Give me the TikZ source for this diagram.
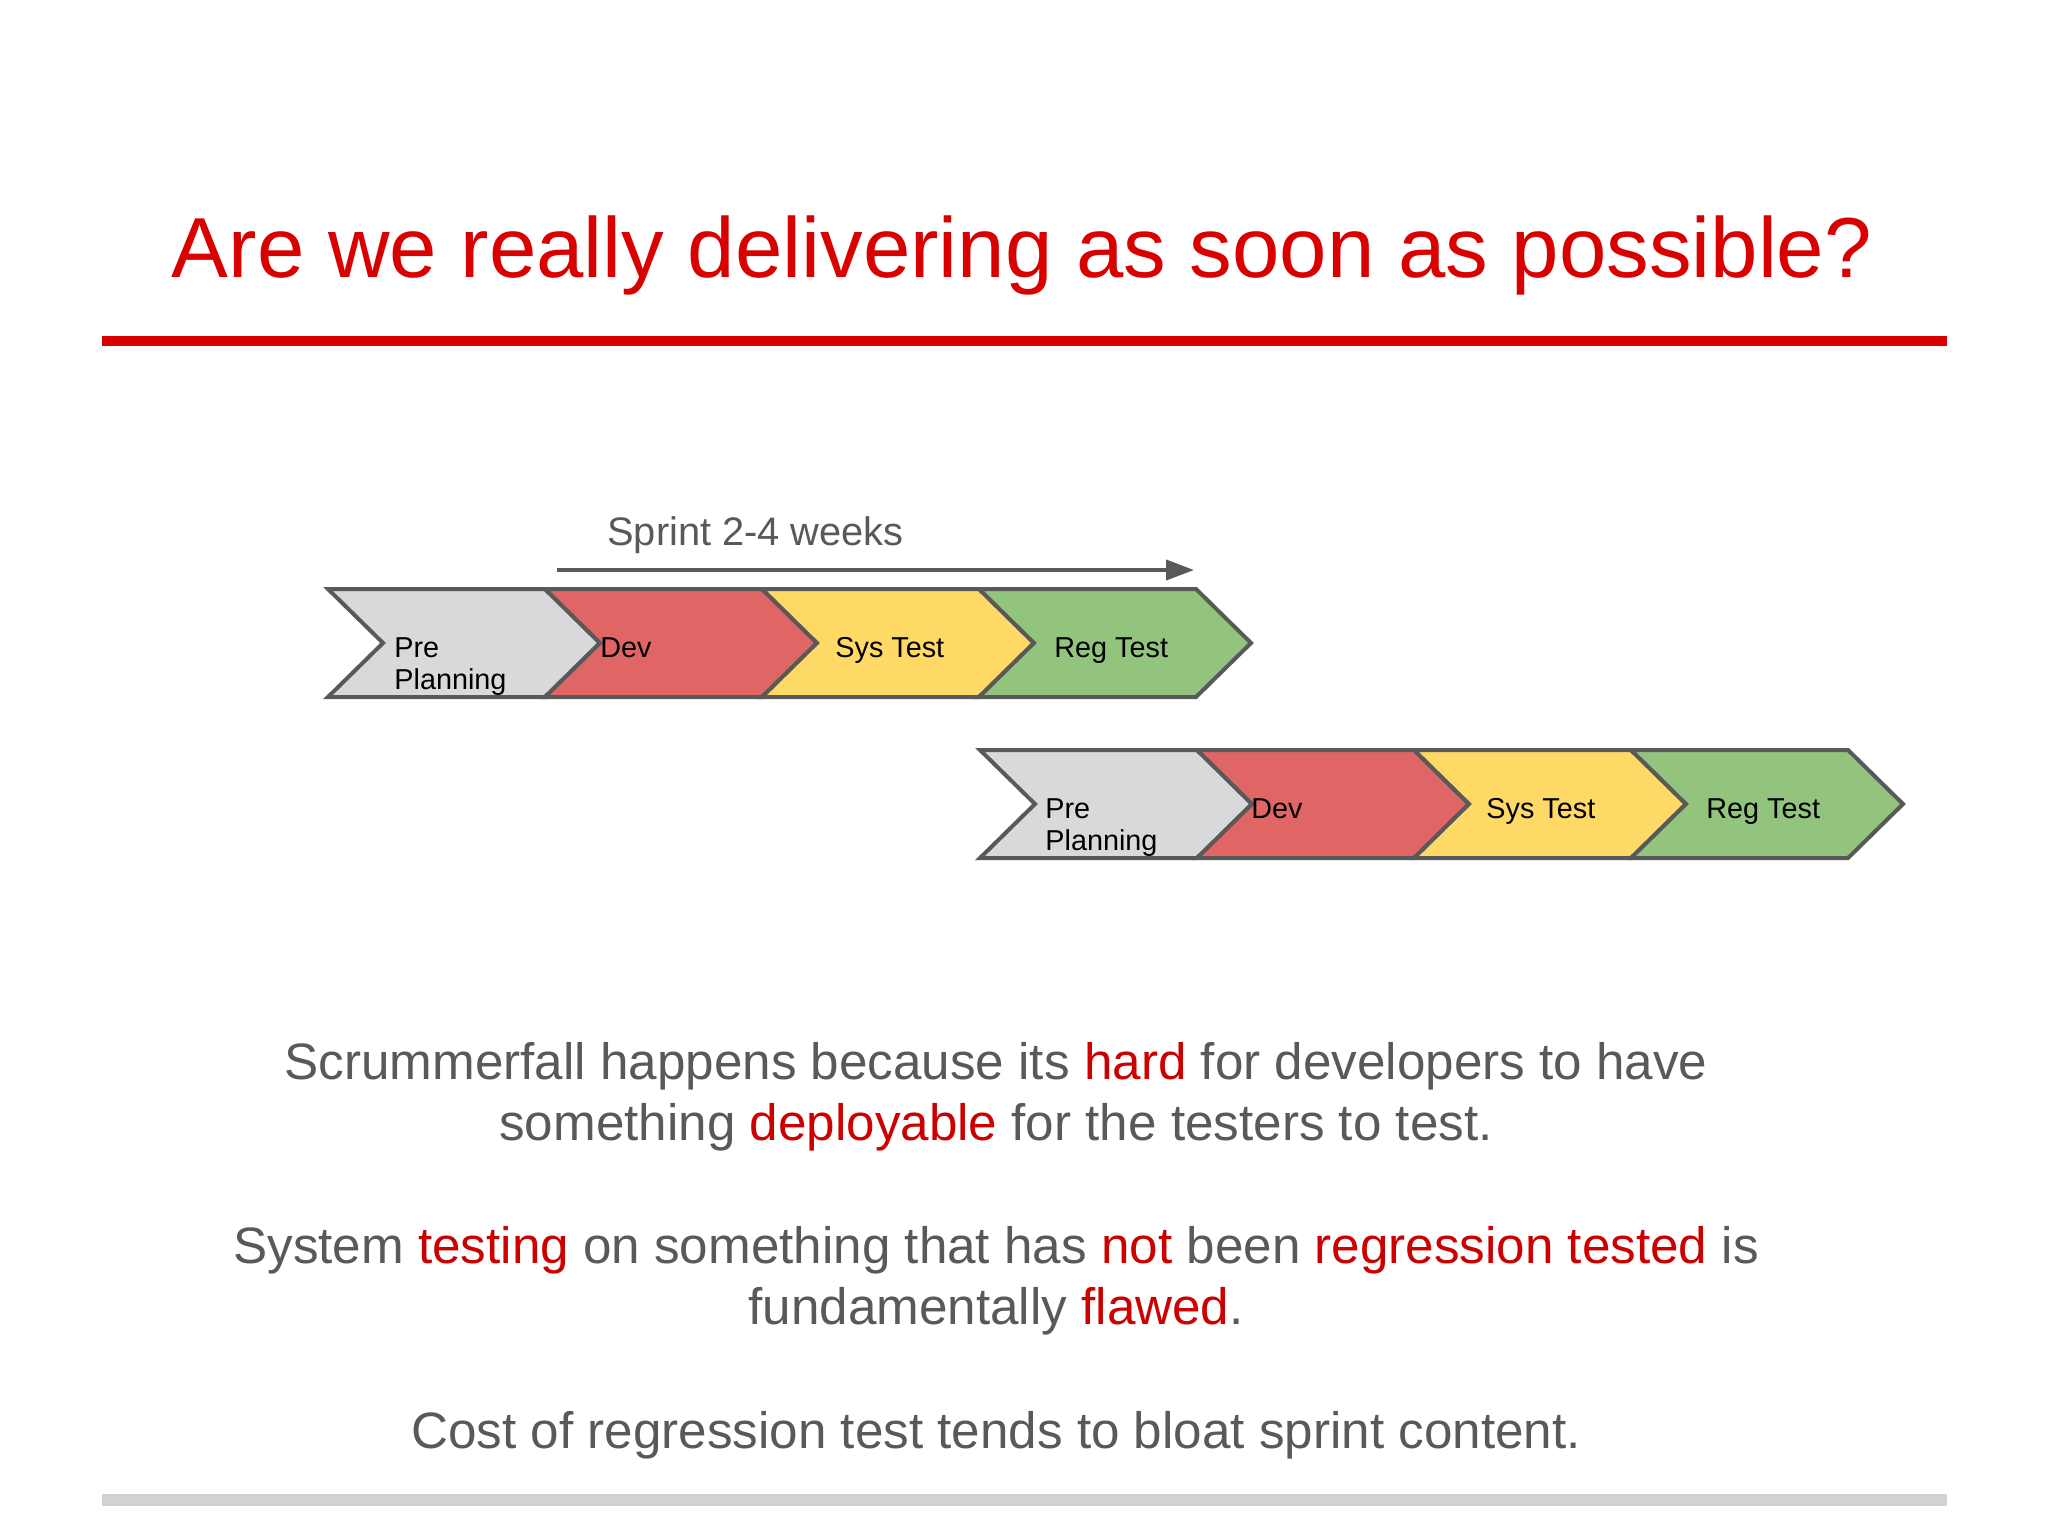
\documentclass[tikz,border=0pt]{standalone}
\usepackage{fontspec}
\setmainfont{Liberation Sans}
\usetikzlibrary{arrows.meta}
\definecolor{titlered}{HTML}{D90000}
\definecolor{rulegray}{HTML}{D1D2D4}
\definecolor{textgray}{HTML}{595959}
\definecolor{wordred}{HTML}{CC0000}
\definecolor{outlinegray}{HTML}{595959}
\definecolor{prefill}{HTML}{D9D9DC}
\definecolor{devfill}{HTML}{E06666}
\definecolor{sysfill}{HTML}{FFD966}
\definecolor{regfill}{HTML}{93C47D}
\newcommand\drawchev[3]{%
  \draw[chevline, fill=#3] (#1,#2) -- ++(217,0) -- ++(55,54) -- ++(-55,54) -- ++(-217,0) -- ++(55,-54) -- cycle;}
\begin{document}
\begin{tikzpicture}[x=0.5pt,y=-0.5pt,
  titlefont/.style={font=\fontsize{42.6pt}{50pt}\selectfont, text=titlered, inner sep=0pt},
  bodyfont/.style={font=\fontsize{25.6pt}{30.5pt}\selectfont, text=textgray, inner sep=0pt},
  sprintfont/.style={font=\fontsize{19.9pt}{24pt}\selectfont, text=textgray, inner sep=0pt},
  chevlabel/.style={font=\fontsize{14.4pt}{16pt}\selectfont, text=black, inner sep=0pt, anchor=base west},
  chevline/.style={draw=outlinegray, line width=2pt, line join=miter},
  sprintarrow/.style={draw=outlinegray, line width=2pt, -{Triangle[length=14pt,width=10pt]}}
]
\useasboundingbox[fill=white] (0,0) rectangle (2048,1536);

% title and rules
\node[titlefont, anchor=base] (title) at (1022,277) {Are we really delivering as soon as possible?};
\fill[titlered] (102,336) rectangle (1947,346);
\fill[rulegray] (102,1494) rectangle (1947,1506);

% sprint arrow
\node[sprintfont, anchor=base west] (sprint) at (607,545) {Sprint 2-4 weeks};
\coordinate (arrowstart) at (557,570);
\coordinate (arrowend) at (1194,570);
\draw[sprintarrow] (arrowstart) -- (arrowend);

% row 1
\drawchev{328}{589}{prefill}
\drawchev{545}{589}{devfill}
\drawchev{762}{589}{sysfill}
\drawchev{979}{589}{regfill}
\node[chevlabel] (pre1) at (394,657) {\vtop{\baselineskip=16pt\hbox{Pre}\hbox{Planning}}};
\node[chevlabel] (dev1) at (600,657) {Dev};
\node[chevlabel] (sys1) at (835,657) {Sys Test};
\node[chevlabel] (reg1) at (1054,657) {Reg Test};

% row 2
\drawchev{980}{750}{prefill}
\drawchev{1197}{750}{devfill}
\drawchev{1414}{750}{sysfill}
\drawchev{1631}{750}{regfill}
\node[chevlabel] (pre2) at (1045,818) {\vtop{\baselineskip=16pt\hbox{Pre}\hbox{Planning}}};
\node[chevlabel] (dev2) at (1251,818) {Dev};
\node[chevlabel] (sys2) at (1486,818) {Sys Test};
\node[chevlabel] (reg2) at (1706,818) {Reg Test};

% body text
\node[bodyfont, anchor=base] (l1) at (996,1079) {Scrummerfall happens because its \textcolor{wordred}{hard} for developers to have};
\node[bodyfont, anchor=base] (l2) at (996,1140) {something \textcolor{wordred}{deployable} for the testers to test.};
\node[bodyfont, anchor=base] (l3) at (996,1263) {System \textcolor{wordred}{testing} on something that has \textcolor{wordred}{not} been \textcolor{wordred}{regression tested} is};
\node[bodyfont, anchor=base] (l4) at (996,1324) {fundamentally \textcolor{wordred}{flawed}.};
\node[bodyfont, anchor=base] (l5) at (996,1448) {Cost of regression test tends to bloat sprint content.};
\end{tikzpicture}
\end{document}
